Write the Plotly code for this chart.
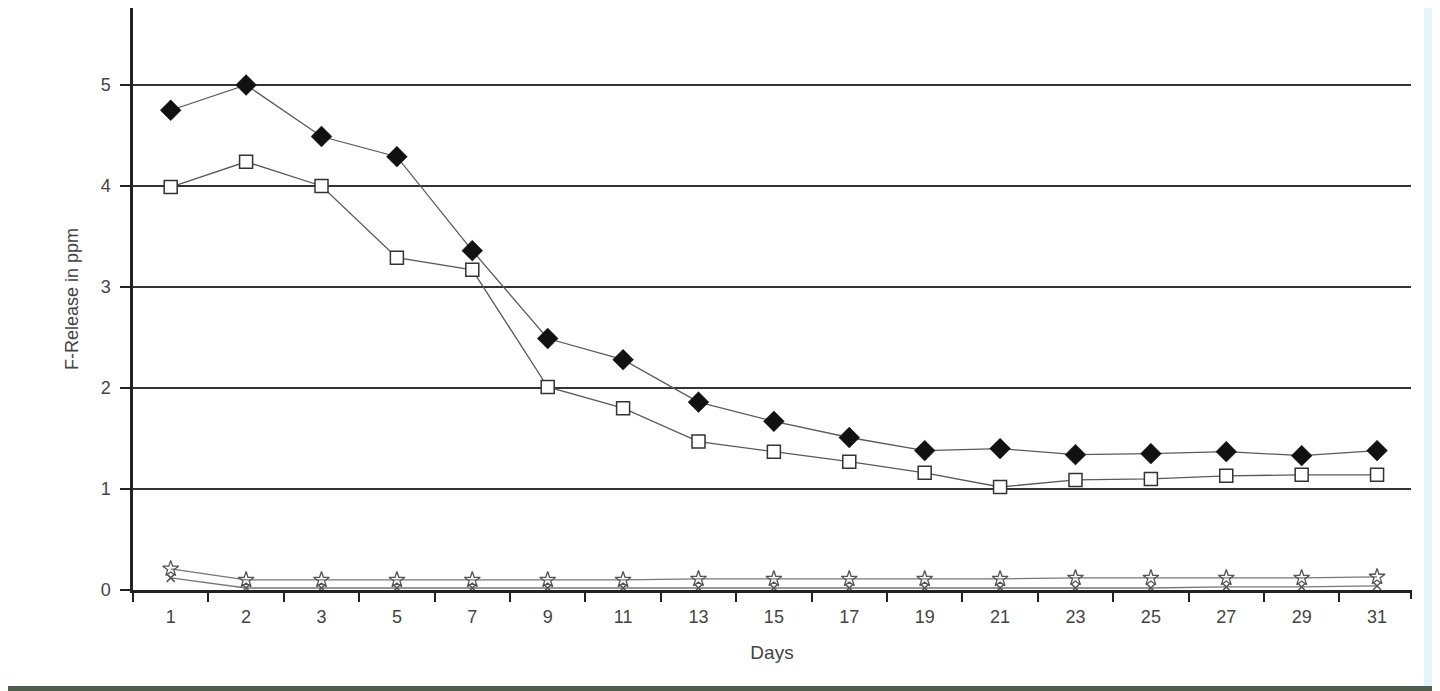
import plotly.graph_objects as go

days = ["1", "2", "3", "5", "7", "9", "11", "13", "15", "17", "19", "21", "23", "25", "27", "29", "31"]
series_diamond = [4.75, 5.0, 4.49, 4.29, 3.36, 2.49, 2.28, 1.86, 1.67, 1.51, 1.38, 1.40, 1.34, 1.35, 1.37, 1.33, 1.38]
series_square = [3.99, 4.24, 4.0, 3.29, 3.17, 2.01, 1.80, 1.47, 1.37, 1.27, 1.16, 1.02, 1.09, 1.10, 1.13, 1.14, 1.14]
series_star = [0.21, 0.10, 0.10, 0.10, 0.10, 0.10, 0.10, 0.11, 0.11, 0.11, 0.11, 0.11, 0.12, 0.12, 0.12, 0.12, 0.13]
series_x = [0.12, 0.02, 0.02, 0.02, 0.02, 0.02, 0.02, 0.02, 0.02, 0.02, 0.02, 0.02, 0.02, 0.02, 0.03, 0.03, 0.04]
y_ticks = [0, 1, 2, 3, 4, 5]

line_col = "#5a5a5a"
fig = go.Figure()
fig.add_trace(go.Scatter(x=days, y=series_x, mode="lines+markers",
                         line=dict(color="#777", width=1.3),
                         marker=dict(symbol="x-thin-open", size=8, color="#555", line=dict(width=1.5, color="#555"))))
fig.add_trace(go.Scatter(x=days, y=series_star, mode="lines+markers",
                         line=dict(color="#777", width=1.3),
                         marker=dict(symbol="star-open", size=12, color="#555", line=dict(width=1.3, color="#555"))))
fig.add_trace(go.Scatter(x=days, y=series_square, mode="lines+markers",
                         line=dict(color=line_col, width=1.3),
                         marker=dict(symbol="square", size=13, color="white", line=dict(width=1.5, color="#333"))))
fig.add_trace(go.Scatter(x=days, y=series_diamond, mode="lines+markers",
                         line=dict(color=line_col, width=1.3),
                         marker=dict(symbol="diamond", size=16, color="#111", line=dict(width=0.5, color="#111"))))

# page has an 8px body margin; figure coords = page coords - 8
OFF = 8
FIG_W, FIG_H = 1432, 683
pl, pr = 133 - OFF, 1411 - OFF      # plot left/right in figure coords
pt, pb = 0, 590 - OFF               # plot top/bottom in figure coords
pw = pr - pl
ph = pb - pt

def px(page_x):
    return (page_x - OFF - pl) / pw

def py(page_y):
    return (pb - (page_y - OFF)) / ph

shapes = [
    dict(type="line", xref="paper", yref="paper", x0=1, x1=1, y0=0, y1=-9 / ph,
         line=dict(color="#222", width=2)),
    dict(type="rect", xref="paper", yref="paper", x0=px(1424), x1=px(1445),
         y0=py(700), y1=py(-5), fillcolor="#e4f5fa", line=dict(width=0), layer="below"),
    dict(type="rect", xref="paper", yref="paper", x0=px(-5), x1=px(1445),
         y0=py(695), y1=py(686), fillcolor="#4f5e4c", line=dict(width=0)),
]

fig.update_layout(
    width=FIG_W, height=FIG_H,
    margin=dict(l=pl, r=FIG_W - pr, t=pt, b=FIG_H - pb, autoexpand=False),
    paper_bgcolor="white", plot_bgcolor="white",
    showlegend=False,
    font=dict(family="Liberation Sans, Arial, sans-serif", color="#444"),
    shapes=shapes,
    xaxis=dict(
        type="category", range=[-0.5, 16.45],
        showgrid=False, zeroline=False,
        showline=True, linecolor="#222", linewidth=2.5,
        ticks="outside", tickson="boundaries", ticklen=9, tickwidth=2, tickcolor="#222",
        ticklabelstandoff=9,
        tickfont=dict(size=18, color="#444"),
        title=dict(text="Days", font=dict(size=19, color="#444"), standoff=20),
    ),
    yaxis=dict(
        range=[0, (590 - OFF) / 101.0], tickvals=y_ticks,
        showgrid=True, gridcolor="#333", gridwidth=2.2,
        zeroline=False,
        showline=True, linecolor="#222", linewidth=2.5,
        ticks="outside", ticklen=10, tickwidth=2, tickcolor="#222",
        ticklabelstandoff=6,
        tickfont=dict(size=18, color="#444"),
        title=dict(text="F-Release in ppm", font=dict(size=18, color="#444"), standoff=18),
    ),
)

fig.write_html("out.html")
